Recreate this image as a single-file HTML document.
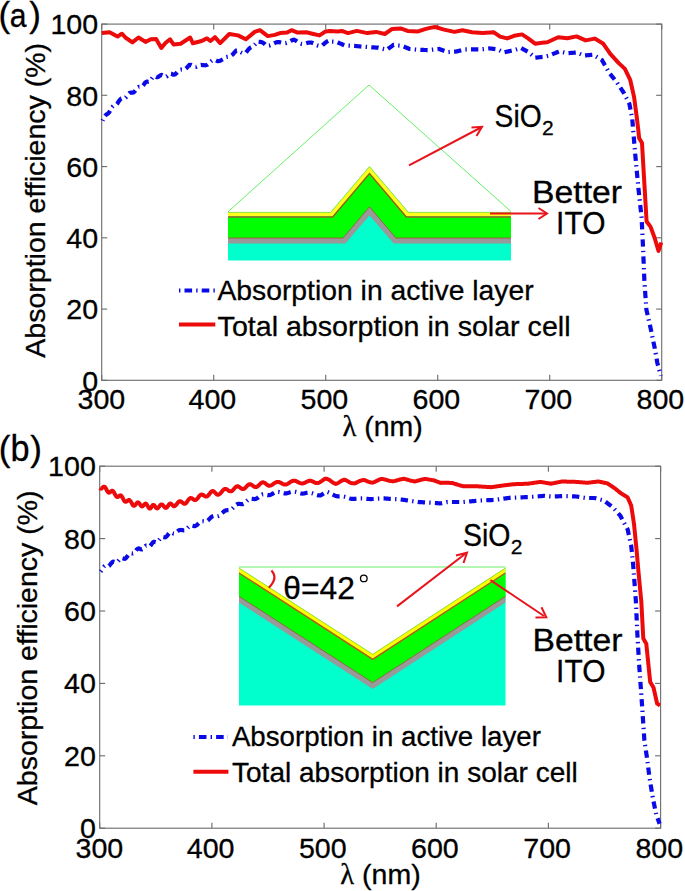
<!DOCTYPE html>
<html><head><meta charset="utf-8"><style>
html,body{margin:0;padding:0;background:#fff;width:685px;height:891px;overflow:hidden}
svg{display:block}
text{font-family:"Liberation Sans",sans-serif;fill:#000;stroke:#000;stroke-width:0.3px}
.tk{font-size:27px}
.lg{font-size:28.5px}
.lg2{font-size:27.6px}
.cal{font-size:31px}
.sub{font-size:21px}
.pl{font-size:35px}
</style></head><body>
<svg width="685" height="891" viewBox="0 0 685 891">
<rect width="685" height="891" fill="#fff"/>
<rect x="101.7" y="24.1" width="560.0" height="356.2" fill="none" stroke="#707070" stroke-width="1.15"/>
<line x1="101.7" y1="380.3" x2="101.7" y2="374.8" stroke="#707070" stroke-width="1.15"/>
<line x1="101.7" y1="24.1" x2="101.7" y2="29.6" stroke="#707070" stroke-width="1.15"/>
<line x1="213.7" y1="380.3" x2="213.7" y2="374.8" stroke="#707070" stroke-width="1.15"/>
<line x1="213.7" y1="24.1" x2="213.7" y2="29.6" stroke="#707070" stroke-width="1.15"/>
<line x1="325.7" y1="380.3" x2="325.7" y2="374.8" stroke="#707070" stroke-width="1.15"/>
<line x1="325.7" y1="24.1" x2="325.7" y2="29.6" stroke="#707070" stroke-width="1.15"/>
<line x1="437.7" y1="380.3" x2="437.7" y2="374.8" stroke="#707070" stroke-width="1.15"/>
<line x1="437.7" y1="24.1" x2="437.7" y2="29.6" stroke="#707070" stroke-width="1.15"/>
<line x1="549.7" y1="380.3" x2="549.7" y2="374.8" stroke="#707070" stroke-width="1.15"/>
<line x1="549.7" y1="24.1" x2="549.7" y2="29.6" stroke="#707070" stroke-width="1.15"/>
<line x1="661.7" y1="380.3" x2="661.7" y2="374.8" stroke="#707070" stroke-width="1.15"/>
<line x1="661.7" y1="24.1" x2="661.7" y2="29.6" stroke="#707070" stroke-width="1.15"/>
<line x1="101.7" y1="380.3" x2="107.2" y2="380.3" stroke="#707070" stroke-width="1.15"/>
<line x1="661.7" y1="380.3" x2="656.2" y2="380.3" stroke="#707070" stroke-width="1.15"/>
<line x1="101.7" y1="309.1" x2="107.2" y2="309.1" stroke="#707070" stroke-width="1.15"/>
<line x1="661.7" y1="309.1" x2="656.2" y2="309.1" stroke="#707070" stroke-width="1.15"/>
<line x1="101.7" y1="237.8" x2="107.2" y2="237.8" stroke="#707070" stroke-width="1.15"/>
<line x1="661.7" y1="237.8" x2="656.2" y2="237.8" stroke="#707070" stroke-width="1.15"/>
<line x1="101.7" y1="166.6" x2="107.2" y2="166.6" stroke="#707070" stroke-width="1.15"/>
<line x1="661.7" y1="166.6" x2="656.2" y2="166.6" stroke="#707070" stroke-width="1.15"/>
<line x1="101.7" y1="95.3" x2="107.2" y2="95.3" stroke="#707070" stroke-width="1.15"/>
<line x1="661.7" y1="95.3" x2="656.2" y2="95.3" stroke="#707070" stroke-width="1.15"/>
<line x1="101.7" y1="24.1" x2="107.2" y2="24.1" stroke="#707070" stroke-width="1.15"/>
<line x1="661.7" y1="24.1" x2="656.2" y2="24.1" stroke="#707070" stroke-width="1.15"/>
<text transform="translate(101.4,409.2) scale(1.06,1)" text-anchor="middle" class="tk">300</text>
<text transform="translate(212.4,409.2) scale(1.06,1)" text-anchor="middle" class="tk">400</text>
<text transform="translate(324.4,409.2) scale(1.06,1)" text-anchor="middle" class="tk">500</text>
<text transform="translate(436.4,409.2) scale(1.06,1)" text-anchor="middle" class="tk">600</text>
<text transform="translate(548.4,409.2) scale(1.06,1)" text-anchor="middle" class="tk">700</text>
<text transform="translate(660.4,409.2) scale(1.06,1)" text-anchor="middle" class="tk">800</text>
<text transform="translate(98.2,390.6) scale(1.06,1)" text-anchor="end" class="tk">0</text>
<text transform="translate(98.2,319.4) scale(1.06,1)" text-anchor="end" class="tk">20</text>
<text transform="translate(98.2,248.1) scale(1.06,1)" text-anchor="end" class="tk">40</text>
<text transform="translate(98.2,176.9) scale(1.06,1)" text-anchor="end" class="tk">60</text>
<text transform="translate(98.2,105.6) scale(1.06,1)" text-anchor="end" class="tk">80</text>
<text transform="translate(98.2,34.4) scale(1.06,1)" text-anchor="end" class="tk">100</text>
<g>
<polygon points="228,212 228,260.5 511,260.5 511,212 408.3,212 369.5,166.3 330.7,212" fill="#00ffcc"/>
<polygon points="228,238 228,243.5 345.4,243.5 369.5,215.4 393.6,243.5 511,243.5 511,238 396,238 369.5,206.8 342.9,238" fill="#999"/>
<polygon points="228,217.8 228,238 342.9,238 369.5,206.8 396,238 511,238 511,217.5 406.3,217.5 369.5,174 332.7,217.5" fill="#00ff00"/>
<polyline points="228,238 342.9,238 369.5,206.8 396,238 511,238" fill="none" stroke="#a0522d" stroke-width="0.8"/>
<polygon points="228,212.3 228,216.3 332.7,216.3 369.5,172.8 406.3,216.3 511,216.3 511,212.3 408.3,212.3 369.5,166.6 330.7,212.3" fill="#ffff20"/>
<polyline points="228,217.1 332.7,217.1 369.5,173.6 406.3,217.1 511,217.1" fill="none" stroke="#9a6400" stroke-width="1.5"/>
<polyline points="228,212.4 330.7,212.4 369.5,166.7 408.3,212.4 511,212.4" fill="none" stroke="#90e040" stroke-width="0.9"/>
<polyline points="228,211.8 369,85 511,211.5" fill="none" stroke="#66ee66" stroke-width="1"/>
</g>
<line x1="409" y1="165.4" x2="480" y2="128" stroke="#e8141c" stroke-width="2"/>
<polyline points="471.5,127.5 482,126.8 476.5,136" fill="none" stroke="#e8141c" stroke-width="2"/>
<line x1="490" y1="213.5" x2="546" y2="213.5" stroke="#e8141c" stroke-width="2"/>
<polyline points="538.5,208 547,213.5 538.5,219" fill="none" stroke="#e8141c" stroke-width="2"/>
<text x="494.6" y="127.2" class="cal" textLength="47" lengthAdjust="spacingAndGlyphs">SiO</text>
<text x="542" y="135.4" class="sub">2</text>
<text x="532" y="203.3" class="cal" textLength="90" lengthAdjust="spacingAndGlyphs">Better</text>
<text x="556.1" y="233.9" class="cal" textLength="49.3" lengthAdjust="spacingAndGlyphs">ITO</text>
<path d="M101.80 33.10 L109.60 32.30 L117.50 36.60 L121.90 33.70 L125.40 37.50 L132.40 42.40 L138.50 37.50 L145.50 41.90 L150.80 39.30 L156.10 38.90 L161.30 48.00 L165.70 42.80 L170.10 39.30 L173.60 44.50 L180.60 43.70 L190.20 37.50 L192.90 43.30 L201.60 41.00 L206.90 38.40 L210.40 41.00 L214.90 37.20 L220.20 43.10 L229.30 34.00 L238.00 35.40 L245.90 39.30 L254.70 31.90 L259.90 30.20 L267.80 36.10 L274.80 34.90 L280.10 33.10 L287.10 32.60 L291.50 30.20 L297.60 32.60 L306.40 32.30 L313.40 34.00 L319.50 35.40 L325.60 31.40 L330.00 30.90 L337.50 31.40 L341.90 30.90 L348.00 33.10 L356.80 30.90 L367.30 33.10 L376.10 31.90 L384.80 34.00 L391.80 29.10 L400.60 28.40 L407.60 30.90 L418.10 31.40 L425.10 29.10 L430.00 27.90 L435.30 27.00 L444.00 29.60 L454.50 31.90 L462.40 30.20 L472.00 32.30 L482.60 33.10 L493.90 32.30 L500.10 36.60 L507.10 38.40 L514.10 35.80 L522.00 34.40 L528.10 38.40 L535.10 43.70 L542.10 42.80 L547.30 42.30 L558.20 37.30 L567.40 38.20 L576.50 36.40 L585.60 40.40 L594.70 38.60 L603.00 43.40 L610.30 53.80 L618.50 62.90 L624.90 68.90 L630.30 80.20 L634.00 96.60 L636.70 116.70 L638.30 130.00 L639.10 138.00 L642.00 143.10 L643.80 173.80 L646.60 221.50 L650.50 226.60 L654.60 237.70 L658.50 251.00 L661.20 242.50" fill="none" stroke="#ec0a0a" stroke-width="4" stroke-linejoin="round"/>
<path d="M102.60 120.62 L103.00 119.68 L103.40 118.78 L103.80 117.94 L104.20 117.18 L104.60 116.52 L105.00 115.96 L105.40 115.49 L105.80 115.09 L106.20 114.74 L106.60 114.41 L107.00 114.08 L107.50 113.87 L107.99 113.56 L108.49 113.11 L108.98 112.51 L109.48 111.79 L109.97 110.96 L110.47 110.07 L110.97 109.17 L111.46 108.30 L111.96 107.53 L112.45 106.88 L112.95 106.36 L113.44 105.98 L113.94 105.71 L114.43 105.53 L114.93 105.37 L115.43 105.19 L115.92 104.94 L116.42 104.58 L116.91 104.09 L117.41 103.46 L117.90 102.70 L118.40 101.85 L119.00 101.01 L119.59 100.18 L120.19 99.46 L120.78 98.91 L121.38 98.55 L121.97 98.39 L122.57 98.36 L123.16 98.40 L123.76 98.43 L124.35 98.34 L124.95 98.09 L125.55 97.65 L126.14 97.04 L126.74 96.29 L127.33 95.48 L127.93 94.67 L128.52 93.93 L129.12 93.34 L129.71 92.91 L130.31 92.66 L130.90 92.56 L131.50 92.56 L132.09 92.58 L132.67 92.56 L133.26 92.43 L133.84 92.14 L134.43 91.67 L135.01 91.01 L135.60 90.23 L136.19 89.40 L136.77 88.60 L137.36 87.91 L137.94 87.41 L138.53 87.10 L139.11 86.97 L139.70 86.97 L140.29 87.02 L140.87 87.04 L141.46 86.94 L142.04 86.67 L142.63 86.18 L143.21 85.49 L143.80 84.65 L144.40 83.73 L145.00 82.89 L145.60 82.24 L146.20 81.84 L146.80 81.67 L147.40 81.67 L148.00 81.74 L148.60 81.76 L149.20 81.61 L149.80 81.22 L150.40 80.59 L151.00 79.77 L151.60 78.85 L152.20 77.96 L152.80 77.21 L153.40 76.68 L154.00 76.40 L154.60 76.33 L155.20 76.38 L155.90 76.89 L156.60 77.22 L157.30 77.25 L158.00 77.01 L158.70 76.58 L159.40 76.05 L160.10 75.53 L160.80 75.15 L161.50 74.98 L162.20 75.06 L162.90 75.35 L163.60 75.77 L164.30 76.21 L165.00 76.55 L165.70 76.69 L166.39 76.47 L167.07 76.01 L167.76 75.39 L168.44 74.72 L169.13 74.13 L169.81 73.74 L170.50 73.59 L171.19 73.70 L171.87 73.98 L172.56 74.32 L173.24 74.60 L173.93 74.69 L174.61 74.55 L175.30 74.23 L175.94 73.63 L176.57 72.95 L177.21 72.24 L177.85 71.55 L178.48 70.92 L179.12 70.40 L179.75 70.02 L180.39 69.77 L181.03 69.64 L181.66 69.61 L182.30 69.64 L182.94 69.66 L183.57 69.64 L184.21 69.52 L184.85 69.28 L185.48 68.90 L186.12 68.39 L186.75 67.76 L187.39 67.06 L188.03 66.34 L188.66 65.66 L189.30 65.06 L190.03 64.91 L190.77 64.95 L191.50 65.17 L192.23 65.53 L192.97 65.95 L193.70 66.37 L194.43 66.70 L195.17 66.88 L195.90 66.88 L196.63 66.71 L197.37 66.41 L198.10 66.02 L198.83 65.62 L199.57 65.26 L200.30 65.01 L201.03 64.90 L201.77 64.96 L202.50 65.17 L203.15 65.16 L203.79 65.21 L204.44 65.27 L205.09 65.30 L205.74 65.26 L206.38 65.10 L207.03 64.83 L207.68 64.43 L208.33 63.93 L208.97 63.35 L209.62 62.71 L210.27 62.08 L210.92 61.47 L211.56 60.94 L212.21 60.51 L212.86 60.19 L213.51 59.99 L214.15 59.90 L214.80 59.90 L215.55 60.25 L216.31 60.61 L217.06 60.91 L217.82 61.09 L218.57 61.12 L219.33 61.00 L220.08 60.75 L220.84 60.40 L221.59 59.99 L222.35 59.58 L223.10 59.22 L223.70 58.65 L224.30 58.16 L224.90 57.76 L225.50 57.44 L226.10 57.21 L226.70 57.05 L227.30 56.94 L227.90 56.86 L228.50 56.77 L229.10 56.66 L229.70 56.49 L230.30 56.26 L230.90 55.94 L231.50 55.52 L232.10 55.02 L232.70 54.43 L233.30 53.79 L233.90 53.10 L234.50 52.42 L235.10 51.75 L235.70 51.13 L236.30 50.58 L237.04 50.57 L237.78 50.70 L238.52 50.96 L239.25 51.33 L239.99 51.77 L240.73 52.21 L241.47 52.61 L242.21 52.93 L242.95 53.11 L243.68 53.16 L244.42 53.09 L245.16 52.90 L245.90 52.64 L246.45 51.90 L247.01 51.16 L247.56 50.44 L248.12 49.76 L248.67 49.14 L249.23 48.58 L249.78 48.09 L250.34 47.68 L250.89 47.34 L251.45 47.06 L252.00 46.82 L252.48 46.45 L252.96 46.10 L253.45 45.74 L253.93 45.36 L254.41 44.96 L254.89 44.51 L255.37 44.02 L255.85 43.47 L256.34 42.87 L256.82 42.22 L257.30 41.52 L257.93 41.66 L258.56 41.74 L259.19 41.80 L259.81 41.84 L260.44 41.90 L261.07 42.00 L261.70 42.17 L262.33 42.40 L262.96 42.73 L263.59 43.13 L264.21 43.62 L264.84 44.17 L265.47 44.76 L266.10 45.39 L266.80 45.54 L267.50 45.66 L268.20 45.71 L268.90 45.68 L269.60 45.55 L270.30 45.33 L271.00 45.04 L271.70 44.69 L272.40 44.29 L273.10 43.86 L273.80 43.50 L274.50 43.14 L275.20 42.82 L275.90 42.54 L276.60 42.33 L277.30 42.18 L278.00 42.11 L278.70 42.12 L279.40 42.19 L280.10 42.31 L280.80 42.48 L281.50 42.66 L282.20 42.84 L282.90 43.01 L283.60 43.13 L284.30 43.18 L285.00 43.15 L285.70 43.06 L286.40 42.89 L287.10 42.66 L287.80 42.37 L288.50 42.04 L289.20 41.68 L289.90 41.31 L290.60 40.94 L291.30 40.59 L292.00 40.28 L292.70 40.03 L293.40 39.83 L294.10 39.70 L294.76 40.01 L295.43 40.38 L296.09 40.80 L296.75 41.27 L297.41 41.76 L298.07 42.27 L298.74 42.77 L299.40 43.27 L300.10 43.53 L300.80 43.74 L301.50 43.89 L302.20 43.98 L302.90 44.00 L303.60 43.94 L304.30 43.83 L305.00 43.65 L305.70 43.45 L306.40 43.22 L307.10 43.00 L307.80 42.80 L308.50 42.63 L309.20 42.53 L309.90 42.49 L310.60 42.52 L311.30 42.63 L312.00 42.81 L312.70 43.05 L313.40 43.33 L314.12 43.74 L314.85 44.17 L315.57 44.58 L316.30 44.95 L317.02 45.27 L317.75 45.52 L318.48 45.69 L319.20 45.79 L319.93 45.83 L320.65 45.81 L321.38 45.74 L322.10 45.64 L322.71 45.06 L323.32 44.48 L323.93 43.91 L324.54 43.35 L325.15 42.83 L325.75 42.34 L326.36 41.89 L326.97 41.49 L327.58 41.14 L328.19 40.83 L328.80 40.57 L329.51 40.78 L330.22 41.49 L330.93 41.54 L331.64 41.58 L332.35 41.63 L333.05 41.67 L333.76 41.72 L334.47 41.76 L335.18 41.81 L335.89 41.85 L336.60 41.90 L337.26 42.19 L337.92 42.48 L338.58 42.77 L339.23 43.07 L339.89 43.36 L340.55 43.65 L341.21 43.94 L341.87 44.23 L342.52 44.52 L343.18 44.82 L343.84 45.11 L344.50 45.40 L345.25 45.44 L345.99 45.48 L346.74 45.52 L347.48 45.55 L348.23 45.59 L348.98 45.63 L349.72 45.67 L350.47 45.71 L351.22 45.75 L351.96 45.78 L352.71 45.82 L353.45 45.86 L354.20 45.90 L354.91 45.96 L355.62 46.03 L356.33 46.09 L357.04 46.15 L357.75 46.22 L358.45 46.28 L359.16 46.35 L359.87 46.41 L360.58 46.47 L361.29 46.54 L362.00 46.60 L362.73 46.65 L363.47 46.70 L364.20 46.75 L364.93 46.80 L365.67 46.85 L366.40 46.90 L367.13 46.95 L367.87 47.00 L368.60 47.05 L369.33 47.10 L370.07 47.15 L370.80 47.20 L371.50 47.25 L372.20 47.30 L372.90 47.35 L373.60 47.40 L374.30 47.45 L375.00 47.50 L375.70 47.55 L376.40 47.60 L377.10 47.65 L377.80 47.70 L378.53 47.88 L379.27 48.05 L380.00 48.23 L380.73 48.40 L381.47 48.58 L382.20 48.75 L382.93 48.92 L383.67 49.10 L384.40 49.27 L385.13 49.45 L385.87 49.62 L386.60 49.80 L387.18 49.39 L387.77 48.98 L388.35 48.57 L388.93 48.17 L389.52 47.76 L390.10 47.35 L390.68 46.94 L391.27 46.53 L391.85 46.12 L392.43 45.72 L393.02 45.31 L393.60 44.90 L394.33 44.98 L395.05 45.07 L395.78 45.15 L396.50 45.23 L397.23 45.32 L397.95 45.40 L398.68 45.48 L399.40 45.57 L400.12 45.65 L400.85 45.73 L401.57 45.82 L402.30 45.90 L403.00 46.20 L403.70 46.50 L404.40 46.80 L405.10 47.10 L405.80 47.40 L406.50 47.70 L407.20 48.00 L407.90 48.30 L408.60 48.60 L409.30 48.90 L410.03 48.98 L410.77 49.05 L411.50 49.12 L412.23 49.20 L412.97 49.27 L413.70 49.35 L414.43 49.42 L415.17 49.50 L415.90 49.57 L416.63 49.65 L417.37 49.72 L418.10 49.80 L418.80 49.82 L419.50 49.84 L420.20 49.86 L420.90 49.88 L421.60 49.90 L422.30 49.92 L423.00 49.94 L423.70 49.96 L424.40 49.98 L425.10 50.00 L425.80 50.02 L426.50 50.04 L427.20 50.06 L427.90 50.08 L428.60 50.10 L429.30 50.02 L430.00 49.94 L430.70 49.86 L431.40 49.78 L432.10 49.70 L432.80 49.62 L433.50 49.54 L434.20 49.46 L434.90 49.38 L435.60 49.30 L436.30 49.22 L437.00 49.14 L437.70 49.06 L438.40 48.98 L439.10 48.90 L439.80 49.17 L440.50 49.43 L441.20 49.70 L441.90 49.97 L442.60 50.23 L443.30 50.50 L444.00 50.77 L444.70 51.03 L445.40 51.30 L446.10 51.57 L446.80 51.83 L447.50 52.10 L448.23 52.05 L448.97 52.00 L449.70 51.95 L450.43 51.90 L451.17 51.85 L451.90 51.80 L452.63 51.75 L453.37 51.70 L454.10 51.65 L454.83 51.60 L455.57 51.55 L456.30 51.50 L457.03 51.33 L457.75 51.15 L458.48 50.98 L459.20 50.80 L459.93 50.62 L460.65 50.45 L461.38 50.27 L462.10 50.10 L462.82 49.92 L463.55 49.75 L464.27 49.57 L465.00 49.40 L465.72 49.40 L466.44 49.40 L467.15 49.40 L467.87 49.40 L468.59 49.40 L469.31 49.40 L470.03 49.40 L470.75 49.40 L471.46 49.40 L472.18 49.40 L472.90 49.40 L473.62 49.40 L474.34 49.40 L475.05 49.40 L475.77 49.40 L476.49 49.40 L477.21 49.40 L477.93 49.40 L478.65 49.40 L479.36 49.40 L480.08 49.40 L480.80 49.40 L481.53 49.32 L482.27 49.23 L483.00 49.15 L483.73 49.07 L484.47 48.98 L485.20 48.90 L485.93 48.82 L486.67 48.73 L487.40 48.65 L488.13 48.57 L488.87 48.48 L489.60 48.40 L490.31 48.49 L491.02 48.58 L491.73 48.67 L492.44 48.76 L493.15 48.85 L493.85 48.95 L494.56 49.04 L495.27 49.13 L495.98 49.22 L496.69 49.31 L497.40 49.40 L498.09 49.73 L498.78 50.07 L499.47 50.40 L500.16 50.73 L500.84 51.07 L501.53 51.40 L502.22 51.73 L502.91 52.07 L503.60 52.40 L504.30 52.25 L505.00 52.09 L505.70 51.94 L506.40 51.79 L507.10 51.63 L507.80 51.48 L508.50 51.33 L509.20 51.17 L509.90 51.02 L510.60 50.87 L511.30 50.71 L512.00 50.56 L512.70 50.41 L513.40 50.25 L514.10 50.10 L514.80 49.89 L515.50 49.68 L516.20 49.47 L516.90 49.26 L517.60 49.05 L518.30 48.84 L519.00 48.63 L519.70 48.42 L520.40 48.21 L521.10 48.00 L521.76 48.37 L522.42 48.73 L523.08 49.10 L523.73 49.47 L524.39 49.83 L525.05 50.20 L525.71 50.57 L526.37 50.93 L527.02 51.30 L527.68 51.67 L528.34 52.03 L529.00 52.40 L529.55 52.88 L530.11 53.36 L530.66 53.85 L531.22 54.33 L531.77 54.81 L532.33 55.29 L532.88 55.77 L533.44 56.25 L533.99 56.74 L534.55 57.22 L535.10 57.70 L535.83 57.62 L536.57 57.55 L537.30 57.48 L538.03 57.40 L538.77 57.33 L539.50 57.25 L540.23 57.17 L540.97 57.10 L541.70 57.02 L542.43 56.95 L543.17 56.88 L543.90 56.80 L544.64 56.63 L545.39 56.46 L546.13 56.29 L546.87 56.11 L547.61 55.94 L548.36 55.77 L549.10 55.60 L549.77 55.32 L550.45 55.04 L551.12 54.76 L551.79 54.48 L552.47 54.20 L553.14 53.92 L553.81 53.64 L554.49 53.36 L555.16 53.08 L555.83 52.80 L556.51 52.52 L557.18 52.24 L557.85 51.96 L558.53 51.68 L559.20 51.40 L559.95 51.56 L560.69 51.73 L561.44 51.89 L562.18 52.05 L562.93 52.22 L563.67 52.38 L564.42 52.55 L565.16 52.71 L565.91 52.87 L566.65 53.04 L567.40 53.20 L568.10 53.15 L568.80 53.09 L569.50 53.04 L570.20 52.98 L570.90 52.93 L571.60 52.88 L572.30 52.82 L573.00 52.77 L573.70 52.72 L574.40 52.66 L575.10 52.61 L575.80 52.55 L576.50 52.50 L577.16 52.78 L577.83 53.06 L578.49 53.35 L579.15 53.63 L579.82 53.91 L580.48 54.19 L581.15 54.47 L581.81 54.75 L582.47 55.04 L583.14 55.32 L583.80 55.60 L584.50 55.53 L585.20 55.46 L585.90 55.39 L586.60 55.32 L587.30 55.25 L588.00 55.18 L588.70 55.12 L589.40 55.05 L590.10 54.98 L590.80 54.91 L591.50 54.84 L592.20 54.77 L592.90 54.70 L593.51 55.06 L594.11 55.42 L594.72 55.78 L595.33 56.14 L595.93 56.50 L596.54 56.86 L597.15 57.22 L597.75 57.58 L598.36 57.94 L598.97 58.30 L599.57 58.66 L600.18 59.02 L600.79 59.38 L601.39 59.74 L602.00 60.10 L602.35 60.71 L602.70 61.32 L603.04 61.93 L603.39 62.54 L603.74 63.15 L604.09 63.76 L604.43 64.37 L604.78 64.98 L605.13 65.59 L605.48 66.20 L605.82 66.80 L606.17 67.41 L606.52 68.02 L606.87 68.63 L607.21 69.24 L607.56 69.85 L607.91 70.46 L608.26 71.07 L608.60 71.68 L608.95 72.29 L609.30 72.90 L609.76 73.47 L610.21 74.04 L610.67 74.61 L611.12 75.18 L611.58 75.74 L612.04 76.31 L612.49 76.88 L612.95 77.45 L613.41 78.02 L613.86 78.59 L614.32 79.16 L614.77 79.72 L615.23 80.29 L615.69 80.86 L616.14 81.43 L616.60 82.00 L617.01 82.61 L617.41 83.22 L617.82 83.83 L618.22 84.44 L618.63 85.06 L619.03 85.67 L619.44 86.28 L619.84 86.89 L620.25 87.50 L620.66 88.11 L621.06 88.72 L621.47 89.33 L621.87 89.94 L622.28 90.56 L622.68 91.17 L623.09 91.78 L623.49 92.39 L623.90 93.00 L624.22 93.64 L624.55 94.28 L624.87 94.92 L625.19 95.56 L625.52 96.21 L625.84 96.85 L626.16 97.49 L626.49 98.13 L626.81 98.77 L627.14 99.41 L627.46 100.05 L627.78 100.69 L628.11 101.34 L628.43 101.98 L628.75 102.62 L629.08 103.26 L629.40 103.90 L629.53 104.60 L629.67 105.29 L629.80 105.99 L629.93 106.68 L630.07 107.38 L630.20 108.07 L630.33 108.77 L630.47 109.46 L630.60 110.16 L630.73 110.85 L630.87 111.55 L631.00 112.24 L631.13 112.94 L631.27 113.63 L631.40 114.33 L631.53 115.02 L631.67 115.72 L631.80 116.41 L631.93 117.11 L632.07 117.80 L632.20 118.50 L632.26 119.22 L632.33 119.94 L632.39 120.66 L632.45 121.38 L632.51 122.09 L632.58 122.81 L632.64 123.53 L632.70 124.25 L632.76 124.97 L632.83 125.69 L632.89 126.41 L632.95 127.12 L633.01 127.84 L633.08 128.56 L633.14 129.28 L633.20 130.00 L633.26 130.71 L633.32 131.41 L633.37 132.12 L633.43 132.83 L633.49 133.53 L633.55 134.24 L633.61 134.95 L633.66 135.65 L633.72 136.36 L633.78 137.06 L633.84 137.77 L633.90 138.48 L633.95 139.18 L634.01 139.89 L634.07 140.60 L634.13 141.30 L634.19 142.01 L634.25 142.72 L634.30 143.42 L634.36 144.13 L634.42 144.84 L634.48 145.54 L634.54 146.25 L634.59 146.95 L634.65 147.66 L634.71 148.37 L634.77 149.07 L634.83 149.78 L634.88 150.49 L634.94 151.19 L635.00 151.90 L635.07 152.60 L635.13 153.30 L635.20 154.00 L635.26 154.70 L635.33 155.40 L635.39 156.10 L635.46 156.80 L635.52 157.50 L635.59 158.20 L635.65 158.90 L635.72 159.60 L635.78 160.30 L635.85 161.00 L635.92 161.70 L635.98 162.40 L636.05 163.10 L636.11 163.80 L636.18 164.50 L636.24 165.20 L636.31 165.90 L636.37 166.60 L636.44 167.30 L636.50 168.00 L636.57 168.70 L636.63 169.40 L636.70 170.10 L636.77 170.80 L636.83 171.50 L636.90 172.20 L636.96 172.90 L637.03 173.60 L637.09 174.30 L637.16 175.00 L637.22 175.70 L637.29 176.40 L637.35 177.10 L637.42 177.80 L637.48 178.50 L637.55 179.20 L637.62 179.90 L637.68 180.60 L637.75 181.30 L637.81 182.00 L637.88 182.70 L637.94 183.40 L638.01 184.10 L638.07 184.80 L638.14 185.50 L638.20 186.20 L638.27 186.90 L638.33 187.60 L638.40 188.30 L638.48 189.01 L638.56 189.72 L638.63 190.44 L638.71 191.15 L638.79 191.86 L638.87 192.57 L638.95 193.29 L639.02 194.00 L639.10 194.71 L639.18 195.42 L639.26 196.13 L639.34 196.85 L639.41 197.56 L639.49 198.27 L639.57 198.98 L639.65 199.70 L639.73 200.41 L639.80 201.12 L639.88 201.83 L639.96 202.54 L640.04 203.26 L640.12 203.97 L640.20 204.68 L640.27 205.39 L640.35 206.10 L640.43 206.82 L640.51 207.53 L640.59 208.24 L640.66 208.95 L640.74 209.67 L640.82 210.38 L640.90 211.09 L640.98 211.80 L641.05 212.51 L641.13 213.23 L641.21 213.94 L641.29 214.65 L641.37 215.36 L641.44 216.08 L641.52 216.79 L641.60 217.50 L641.63 218.21 L641.67 218.92 L641.70 219.64 L641.74 220.35 L641.77 221.06 L641.80 221.77 L641.84 222.49 L641.87 223.20 L641.91 223.91 L641.94 224.62 L641.98 225.33 L642.01 226.05 L642.04 226.76 L642.08 227.47 L642.11 228.18 L642.15 228.90 L642.18 229.61 L642.21 230.32 L642.25 231.03 L642.28 231.74 L642.32 232.46 L642.35 233.17 L642.39 233.88 L642.42 234.59 L642.45 235.30 L642.49 236.02 L642.52 236.73 L642.56 237.44 L642.59 238.15 L642.62 238.87 L642.66 239.58 L642.69 240.29 L642.73 241.00 L642.76 241.71 L642.80 242.43 L642.83 243.14 L642.86 243.85 L642.90 244.56 L642.93 245.28 L642.97 245.99 L643.00 246.70 L643.03 247.41 L643.06 248.12 L643.09 248.82 L643.11 249.53 L643.14 250.24 L643.17 250.95 L643.20 251.66 L643.23 252.37 L643.26 253.07 L643.29 253.78 L643.31 254.49 L643.34 255.20 L643.37 255.91 L643.40 256.61 L643.43 257.32 L643.46 258.03 L643.49 258.74 L643.51 259.45 L643.54 260.16 L643.57 260.86 L643.60 261.57 L643.63 262.28 L643.66 262.99 L643.69 263.70 L643.71 264.40 L643.74 265.11 L643.77 265.82 L643.80 266.53 L643.83 267.24 L643.86 267.94 L643.89 268.65 L643.91 269.36 L643.94 270.07 L643.97 270.78 L644.00 271.49 L644.03 272.19 L644.06 272.90 L644.09 273.61 L644.11 274.32 L644.14 275.03 L644.17 275.73 L644.20 276.44 L644.23 277.15 L644.26 277.86 L644.29 278.57 L644.31 279.28 L644.34 279.98 L644.37 280.69 L644.40 281.40 L644.45 282.11 L644.50 282.81 L644.55 283.52 L644.60 284.23 L644.65 284.94 L644.70 285.64 L644.75 286.35 L644.80 287.06 L644.85 287.77 L644.90 288.47 L644.95 289.18 L645.00 289.89 L645.05 290.60 L645.10 291.31 L645.15 292.01 L645.20 292.72 L645.25 293.43 L645.30 294.13 L645.35 294.84 L645.40 295.55 L645.45 296.26 L645.50 296.96 L645.55 297.67 L645.60 298.38 L645.65 299.09 L645.70 299.79 L645.75 300.50 L645.80 301.21 L645.85 301.92 L645.90 302.62 L645.95 303.33 L646.00 304.04 L646.05 304.75 L646.10 305.45 L646.15 306.16 L646.20 306.87 L646.25 307.58 L646.30 308.28 L646.35 308.99 L646.40 309.70 L646.56 310.40 L646.72 311.10 L646.88 311.80 L647.04 312.50 L647.20 313.20 L647.36 313.90 L647.51 314.60 L647.67 315.30 L647.83 316.00 L647.99 316.70 L648.15 317.40 L648.31 318.10 L648.47 318.80 L648.63 319.50 L648.79 320.20 L648.95 320.90 L649.11 321.60 L649.27 322.30 L649.43 323.00 L649.59 323.70 L649.74 324.40 L649.90 325.10 L650.06 325.80 L650.22 326.50 L650.38 327.20 L650.54 327.90 L650.70 328.60 L650.84 329.30 L650.99 330.00 L651.13 330.70 L651.28 331.40 L651.42 332.10 L651.57 332.80 L651.71 333.50 L651.86 334.20 L652.00 334.90 L652.14 335.60 L652.29 336.30 L652.43 337.00 L652.58 337.70 L652.72 338.40 L652.87 339.10 L653.01 339.80 L653.16 340.50 L653.30 341.20 L653.44 341.90 L653.59 342.60 L653.73 343.30 L653.88 344.00 L654.02 344.70 L654.17 345.40 L654.31 346.10 L654.46 346.80 L654.60 347.50 L654.73 348.21 L654.85 348.93 L654.98 349.64 L655.11 350.35 L655.24 351.07 L655.36 351.78 L655.49 352.50 L655.62 353.21 L655.75 353.92 L655.87 354.64 L656.00 355.35 L656.13 356.06 L656.25 356.78 L656.38 357.49 L656.51 358.20 L656.64 358.92 L656.76 359.63 L656.89 360.35 L657.02 361.06 L657.15 361.77 L657.27 362.49 L657.40 363.20 L657.59 363.90 L657.79 364.60 L657.98 365.30 L658.18 366.00 L658.37 366.70 L658.57 367.40 L658.76 368.10 L658.96 368.80 L659.15 369.50 L659.34 370.20 L659.54 370.90 L659.73 371.60 L659.93 372.30 L660.12 373.00 L660.32 373.70 L660.51 374.40 L660.71 375.10 L660.90 375.80" fill="none" stroke="#0a0ae6" stroke-width="4.2" stroke-dasharray="7.3 4.25 1.4 4.25" stroke-dashoffset="11.918070909799908"/>
<line x1="179" y1="290.4" x2="215.3" y2="290.4" stroke="#0a0ae6" stroke-width="4" stroke-dasharray="1.4 4.1 7.6 4.1"/>
<line x1="179" y1="324.6" x2="215.3" y2="324.6" stroke="#ec0a0a" stroke-width="4"/>
<text x="217.4" y="299.8" class="lg" textLength="316.3" lengthAdjust="spacingAndGlyphs">Absorption in active layer</text>
<text x="217.6" y="336" class="lg" textLength="352.9" lengthAdjust="spacingAndGlyphs">Total absorption in solar cell</text>
<text x="-1.6" y="27.3" class="pl">(</text><text transform="translate(9.8,27.3) scale(0.86,0.97)" class="pl">a</text><text x="29.2" y="27.3" class="pl">)</text>
<text transform="translate(45.1,200.3) rotate(-90)" text-anchor="middle" class="lg">Absorption efficiency (%)</text>
<text x="382.6" y="436.1" text-anchor="middle" class="lg"><tspan font-family="Liberation Serif">λ</tspan> (nm)</text>
<rect x="99.7" y="466.2" width="560.9" height="362.00000000000006" fill="none" stroke="#707070" stroke-width="1.15"/>
<line x1="99.7" y1="828.2" x2="99.7" y2="822.7" stroke="#707070" stroke-width="1.15"/>
<line x1="99.7" y1="466.2" x2="99.7" y2="471.7" stroke="#707070" stroke-width="1.15"/>
<line x1="211.9" y1="828.2" x2="211.9" y2="822.7" stroke="#707070" stroke-width="1.15"/>
<line x1="211.9" y1="466.2" x2="211.9" y2="471.7" stroke="#707070" stroke-width="1.15"/>
<line x1="324.1" y1="828.2" x2="324.1" y2="822.7" stroke="#707070" stroke-width="1.15"/>
<line x1="324.1" y1="466.2" x2="324.1" y2="471.7" stroke="#707070" stroke-width="1.15"/>
<line x1="436.2" y1="828.2" x2="436.2" y2="822.7" stroke="#707070" stroke-width="1.15"/>
<line x1="436.2" y1="466.2" x2="436.2" y2="471.7" stroke="#707070" stroke-width="1.15"/>
<line x1="548.4" y1="828.2" x2="548.4" y2="822.7" stroke="#707070" stroke-width="1.15"/>
<line x1="548.4" y1="466.2" x2="548.4" y2="471.7" stroke="#707070" stroke-width="1.15"/>
<line x1="660.6" y1="828.2" x2="660.6" y2="822.7" stroke="#707070" stroke-width="1.15"/>
<line x1="660.6" y1="466.2" x2="660.6" y2="471.7" stroke="#707070" stroke-width="1.15"/>
<line x1="99.7" y1="828.2" x2="105.2" y2="828.2" stroke="#707070" stroke-width="1.15"/>
<line x1="660.6" y1="828.2" x2="655.1" y2="828.2" stroke="#707070" stroke-width="1.15"/>
<line x1="99.7" y1="755.8" x2="105.2" y2="755.8" stroke="#707070" stroke-width="1.15"/>
<line x1="660.6" y1="755.8" x2="655.1" y2="755.8" stroke="#707070" stroke-width="1.15"/>
<line x1="99.7" y1="683.4" x2="105.2" y2="683.4" stroke="#707070" stroke-width="1.15"/>
<line x1="660.6" y1="683.4" x2="655.1" y2="683.4" stroke="#707070" stroke-width="1.15"/>
<line x1="99.7" y1="611.0" x2="105.2" y2="611.0" stroke="#707070" stroke-width="1.15"/>
<line x1="660.6" y1="611.0" x2="655.1" y2="611.0" stroke="#707070" stroke-width="1.15"/>
<line x1="99.7" y1="538.6" x2="105.2" y2="538.6" stroke="#707070" stroke-width="1.15"/>
<line x1="660.6" y1="538.6" x2="655.1" y2="538.6" stroke="#707070" stroke-width="1.15"/>
<line x1="99.7" y1="466.2" x2="105.2" y2="466.2" stroke="#707070" stroke-width="1.15"/>
<line x1="660.6" y1="466.2" x2="655.1" y2="466.2" stroke="#707070" stroke-width="1.15"/>
<text transform="translate(99.4,857.5) scale(1.06,1)" text-anchor="middle" class="tk">300</text>
<text transform="translate(210.6,857.5) scale(1.06,1)" text-anchor="middle" class="tk">400</text>
<text transform="translate(322.8,857.5) scale(1.06,1)" text-anchor="middle" class="tk">500</text>
<text transform="translate(434.9,857.5) scale(1.06,1)" text-anchor="middle" class="tk">600</text>
<text transform="translate(547.1,857.5) scale(1.06,1)" text-anchor="middle" class="tk">700</text>
<text transform="translate(659.3,857.5) scale(1.06,1)" text-anchor="middle" class="tk">800</text>
<text transform="translate(95.8,838.2) scale(1.06,1)" text-anchor="end" class="tk">0</text>
<text transform="translate(95.8,765.8) scale(1.06,1)" text-anchor="end" class="tk">20</text>
<text transform="translate(95.8,693.4) scale(1.06,1)" text-anchor="end" class="tk">40</text>
<text transform="translate(95.8,621.0) scale(1.06,1)" text-anchor="end" class="tk">60</text>
<text transform="translate(95.8,548.6) scale(1.06,1)" text-anchor="end" class="tk">80</text>
<text transform="translate(95.8,476.2) scale(1.06,1)" text-anchor="end" class="tk">100</text>
<g>
<polygon points="239,568 372.7,654.3 505.5,568 505.5,705.5 239,705.5" fill="#00ffcc"/>
<polygon points="239,596.3 372.7,682.6 505.5,596.3 505.5,602.6 372.7,688.9 239,602.6" fill="#999"/>
<polygon points="239,573.5 372.7,659.8 505.5,573.5 505.5,596.3 372.7,682.6 239,596.3" fill="#00ff00"/>
<polyline points="239,596.3 372.7,682.6 505.5,596.3" fill="none" stroke="#a0522d" stroke-width="0.8"/>
<polygon points="239,568 372.7,654.3 505.5,568 505.5,572.2 372.7,658.5 239,572.2" fill="#ffff00"/>
<polyline points="239,573 372.7,659.3 505.5,573" fill="none" stroke="#c05a00" stroke-width="1.4"/>
<polyline points="239,568 372.7,654.3 505.5,568" fill="none" stroke="#7fd000" stroke-width="0.7"/>
<line x1="239" y1="567" x2="505.5" y2="567" stroke="#66ee66" stroke-width="1"/>
</g>
<path d="M271.4 570.5 Q278.5 578 268.8 587.7" fill="none" stroke="#e8141c" stroke-width="2.2"/>
<text x="283.3" y="598.5" class="cal" textLength="71.5" lengthAdjust="spacingAndGlyphs">θ=42</text>
<circle cx="363.8" cy="578.4" r="3.3" fill="none" stroke="#000" stroke-width="1.3"/>
<line x1="397" y1="606.4" x2="465" y2="554" stroke="#e8141c" stroke-width="2"/>
<polyline points="456,555.5 467,552.7 463.5,563" fill="none" stroke="#e8141c" stroke-width="2"/>
<line x1="490.4" y1="580.1" x2="544" y2="616" stroke="#e8141c" stroke-width="2"/>
<polyline points="535.5,617.5 546.3,617.2 541.5,607.3" fill="none" stroke="#e8141c" stroke-width="2"/>
<text x="462.9" y="545.6" class="cal" textLength="47.5" lengthAdjust="spacingAndGlyphs">SiO</text>
<text x="510.8" y="553.9" class="sub">2</text>
<text x="532.4" y="651.2" class="cal" textLength="90" lengthAdjust="spacingAndGlyphs">Better</text>
<text x="556.1" y="682.3" class="cal" textLength="49.3" lengthAdjust="spacingAndGlyphs">ITO</text>
<path d="M99.80 487.92 L100.44 488.52 L101.07 488.65 L101.71 488.36 L102.35 487.80 L102.98 487.19 L103.62 486.75 L104.25 486.66 L104.89 487.03 L105.53 487.85 L106.16 488.99 L106.80 490.24 L107.47 491.45 L108.14 492.30 L108.81 492.66 L109.48 492.56 L110.15 492.10 L110.82 491.49 L111.48 490.96 L112.15 490.74 L112.82 490.96 L113.49 491.66 L114.16 492.74 L114.83 494.01 L115.50 495.25 L116.13 496.23 L116.76 496.84 L117.39 497.03 L118.01 496.84 L118.64 496.39 L119.27 495.87 L119.90 495.47 L120.53 495.37 L121.16 495.67 L121.79 496.38 L122.41 497.44 L123.04 498.68 L123.67 499.92 L124.30 500.96 L124.97 501.63 L125.64 501.84 L126.31 501.65 L126.98 501.19 L127.65 500.63 L128.32 500.17 L128.98 500.00 L129.65 500.22 L130.32 500.86 L130.99 501.86 L131.66 503.07 L132.33 504.29 L133.00 505.32 L133.70 505.74 L134.40 505.68 L135.10 505.13 L135.80 504.26 L136.50 503.32 L137.20 502.61 L137.90 502.33 L138.60 502.58 L139.30 503.31 L140.00 504.33 L140.70 505.37 L141.40 506.15 L142.10 506.48 L142.80 506.22 L143.50 505.44 L144.21 504.56 L144.92 503.81 L145.63 503.52 L146.34 503.88 L147.05 504.83 L147.76 506.14 L148.47 507.42 L149.18 508.32 L149.89 508.61 L150.60 508.27 L151.32 507.19 L152.05 506.02 L152.78 505.17 L153.50 504.91 L154.22 505.34 L154.95 506.27 L155.68 507.35 L156.40 508.18 L157.12 508.45 L157.85 508.13 L158.58 507.39 L159.30 506.40 L160.03 505.41 L160.77 504.67 L161.50 504.38 L162.23 504.59 L162.97 505.24 L163.70 506.15 L164.43 507.06 L165.17 507.71 L165.90 507.92 L166.63 507.60 L167.37 506.81 L168.10 505.76 L168.82 504.63 L169.55 503.81 L170.28 503.49 L171.00 503.71 L171.72 504.36 L172.45 505.20 L173.18 505.94 L173.90 506.32 L174.62 506.19 L175.35 505.70 L176.08 504.93 L176.80 503.99 L177.53 503.01 L178.27 502.14 L179.00 501.51 L179.73 501.20 L180.47 501.24 L181.20 501.58 L181.93 502.14 L182.67 502.78 L183.40 503.35 L184.13 503.71 L184.87 503.77 L185.60 503.48 L186.28 502.83 L186.95 501.95 L187.63 500.95 L188.31 499.96 L188.98 499.09 L189.66 498.44 L190.34 498.08 L191.02 498.03 L191.69 498.25 L192.37 498.67 L193.05 499.19 L193.72 499.67 L194.40 500.00 L195.12 500.14 L195.85 499.93 L196.57 499.42 L197.30 498.66 L198.03 497.73 L198.75 496.76 L199.47 495.85 L200.20 495.13 L200.93 494.66 L201.65 494.51 L202.38 494.64 L203.10 495.01 L203.78 495.46 L204.45 495.94 L205.13 496.35 L205.81 496.59 L206.48 496.62 L207.16 496.38 L207.84 495.90 L208.52 495.20 L209.19 494.36 L209.87 493.45 L210.55 492.55 L211.22 491.76 L211.90 491.15 L212.63 491.06 L213.36 491.25 L214.09 491.71 L214.81 492.37 L215.54 493.15 L216.27 493.94 L217.00 494.62 L217.70 494.81 L218.40 494.77 L219.10 494.47 L219.80 493.96 L220.50 493.25 L221.20 492.42 L221.90 491.54 L222.60 490.70 L223.30 489.96 L224.00 489.40 L224.70 489.05 L225.40 488.94 L226.10 489.05 L226.80 489.34 L227.50 489.74 L228.20 490.27 L228.90 490.76 L229.60 491.13 L230.30 491.32 L231.00 491.30 L231.70 491.04 L232.40 490.55 L233.10 489.87 L233.80 489.08 L234.50 488.26 L235.20 487.50 L235.90 486.87 L236.60 486.44 L237.30 486.25 L238.00 486.30 L238.70 486.60 L239.40 487.06 L240.10 487.61 L240.80 488.17 L241.50 488.65 L242.20 488.97 L242.90 489.08 L243.60 488.96 L244.30 488.61 L245.00 488.07 L245.70 487.39 L246.40 486.64 L247.10 485.89 L247.80 485.21 L248.50 484.67 L249.21 484.33 L249.91 484.21 L250.62 484.32 L251.32 484.62 L252.03 485.07 L252.73 485.60 L253.44 486.15 L254.14 486.62 L254.84 486.96 L255.55 487.10 L256.25 487.03 L256.96 486.75 L257.67 486.29 L258.37 485.69 L259.08 484.99 L259.78 484.26 L260.49 483.58 L261.19 483.00 L261.90 482.57 L262.60 482.33 L263.30 482.37 L264.00 482.60 L264.70 482.98 L265.40 483.49 L266.10 484.05 L266.80 484.62 L267.50 485.11 L268.20 485.50 L268.90 485.72 L269.60 485.75 L270.30 485.63 L271.00 485.39 L271.70 485.03 L272.40 484.59 L273.10 484.10 L273.80 483.59 L274.50 483.10 L275.20 482.67 L275.90 482.32 L276.60 482.07 L277.30 481.91 L278.00 481.88 L278.70 481.98 L279.40 482.19 L280.10 482.49 L280.80 482.85 L281.50 483.25 L282.20 483.64 L282.90 483.99 L283.60 484.27 L284.30 484.46 L285.00 484.54 L285.70 484.49 L286.40 484.33 L287.10 484.07 L287.80 483.72 L288.50 483.30 L289.20 482.83 L289.90 482.35 L290.60 481.87 L291.30 481.48 L292.00 481.15 L292.70 480.91 L293.40 480.76 L294.10 480.72 L294.80 480.79 L295.50 480.95 L296.20 481.20 L296.90 481.51 L297.60 481.87 L298.30 482.24 L299.00 482.60 L299.70 482.92 L300.40 483.18 L301.10 483.37 L301.80 483.46 L302.50 483.45 L303.20 483.33 L303.90 483.11 L304.60 482.81 L305.30 482.50 L306.00 482.15 L306.70 481.79 L307.40 481.45 L308.10 481.16 L308.80 480.94 L309.50 480.80 L310.20 480.77 L310.90 480.84 L311.60 481.01 L312.30 481.27 L313.00 481.60 L313.70 481.98 L314.40 482.38 L315.10 482.78 L315.78 482.91 L316.46 483.00 L317.14 483.01 L317.82 482.94 L318.50 482.78 L319.18 482.54 L319.86 482.22 L320.54 481.84 L321.22 481.40 L321.90 480.93 L322.58 480.44 L323.26 479.94 L323.94 479.46 L324.62 479.02 L325.30 478.62 L326.00 478.68 L326.70 478.81 L327.40 479.02 L328.10 479.30 L328.80 479.66 L329.50 480.08 L330.20 480.54 L330.90 481.04 L331.60 481.55 L332.30 482.06 L333.00 482.54 L333.70 482.98 L334.40 483.37 L335.10 483.69 L335.80 483.94 L336.53 483.73 L337.25 483.42 L337.98 483.05 L338.70 482.61 L339.43 482.14 L340.15 481.65 L340.88 481.18 L341.60 480.74 L342.32 480.36 L343.05 480.05 L343.77 479.82 L344.50 479.67 L345.20 479.91 L345.90 480.23 L346.60 480.59 L347.30 480.99 L348.00 481.41 L348.70 481.82 L349.40 482.21 L350.10 482.56 L350.80 482.85 L351.50 483.07 L352.20 483.22 L352.90 483.31 L353.60 483.36 L354.30 483.38 L355.00 483.36 L355.73 482.99 L356.47 482.61 L357.20 482.22 L357.93 481.83 L358.67 481.47 L359.40 481.13 L360.13 480.83 L360.87 480.56 L361.60 480.35 L362.33 480.18 L363.07 480.05 L363.80 479.97 L364.53 480.20 L365.27 480.46 L366.00 480.74 L366.73 481.03 L367.47 481.32 L368.20 481.60 L368.93 481.86 L369.67 482.10 L370.40 482.30 L371.13 482.46 L371.87 482.58 L372.60 482.67 L373.33 482.42 L374.05 482.13 L374.78 481.82 L375.50 481.48 L376.23 481.12 L376.95 480.76 L377.68 480.40 L378.40 480.05 L379.12 479.72 L379.85 479.42 L380.57 479.15 L381.30 478.91 L382.02 478.96 L382.75 479.05 L383.47 479.17 L384.19 479.33 L384.92 479.51 L385.64 479.71 L386.36 479.92 L387.09 480.14 L387.81 480.35 L388.54 480.55 L389.26 480.73 L389.98 480.89 L390.71 481.02 L391.43 481.12 L392.15 481.19 L392.88 481.23 L393.60 481.25 L394.30 481.09 L395.00 480.91 L395.70 480.71 L396.40 480.51 L397.10 480.30 L397.80 480.09 L398.50 479.89 L399.20 479.69 L399.90 479.51 L400.60 479.34 L401.30 479.19 L402.00 479.06 L402.70 478.95 L403.40 478.86 L404.10 478.80 L404.80 478.96 L405.50 479.14 L406.20 479.33 L406.90 479.53 L407.60 479.74 L408.30 479.95 L409.00 480.16 L409.70 480.37 L410.40 480.57 L411.10 480.75 L411.80 480.92 L412.50 481.08 L413.20 481.22 L413.90 481.34 L414.60 481.44 L415.30 481.29 L416.00 481.14 L416.70 480.97 L417.40 480.78 L418.10 480.59 L418.80 480.40 L419.50 480.21 L420.20 480.01 L420.90 479.83 L421.60 479.65 L422.30 479.48 L423.00 479.32 L423.70 479.18 L424.40 479.05 L425.10 478.94 L425.83 479.02 L426.57 479.12 L427.30 479.23 L428.03 479.35 L428.77 479.48 L429.50 479.61 L430.23 479.74 L430.97 479.87 L431.70 480.00 L432.43 480.12 L433.17 480.24 L433.90 480.34 L434.56 480.63 L435.22 480.91 L435.88 481.18 L436.54 481.44 L437.20 481.70 L437.86 481.94 L438.52 482.18 L439.18 482.42 L439.84 482.65 L440.50 482.88 L441.22 482.85 L441.95 482.82 L442.67 482.80 L443.39 482.78 L444.12 482.76 L444.84 482.76 L445.56 482.75 L446.29 482.76 L447.01 482.78 L447.74 482.80 L448.46 482.83 L449.18 482.86 L449.91 482.90 L450.63 482.95 L451.35 482.99 L452.08 483.04 L452.80 483.08 L453.50 483.32 L454.20 483.56 L454.90 483.79 L455.60 484.02 L456.30 484.25 L457.00 484.47 L457.70 484.69 L458.40 484.90 L459.10 485.11 L459.80 485.31 L460.50 485.52 L461.20 485.72 L461.90 485.92 L462.60 486.12 L463.30 486.32 L464.00 486.31 L464.70 486.30 L465.40 486.30 L466.10 486.29 L466.80 486.29 L467.50 486.29 L468.20 486.29 L468.90 486.29 L469.60 486.30 L470.30 486.30 L471.00 486.30 L471.70 486.30 L472.40 486.30 L473.10 486.30 L473.80 486.30 L474.50 486.30 L475.20 486.30 L475.90 486.30 L476.60 486.30 L477.30 486.30 L478.00 486.35 L478.70 486.39 L479.40 486.44 L480.10 486.48 L480.80 486.52 L481.50 486.57 L482.20 486.62 L482.90 486.66 L483.60 486.70 L484.30 486.75 L485.00 486.80 L485.70 486.84 L486.40 486.88 L487.10 486.93 L487.80 486.98 L488.50 487.02 L489.20 487.06 L489.90 487.11 L490.60 487.15 L491.30 487.20 L492.02 487.09 L492.75 486.99 L493.47 486.88 L494.19 486.78 L494.92 486.67 L495.64 486.56 L496.36 486.46 L497.09 486.35 L497.81 486.25 L498.54 486.14 L499.26 486.04 L499.98 485.93 L500.71 485.82 L501.43 485.72 L502.15 485.61 L502.88 485.51 L503.60 485.40 L504.30 485.32 L505.00 485.24 L505.70 485.16 L506.40 485.08 L507.10 485.00 L507.80 484.92 L508.50 484.84 L509.20 484.76 L509.90 484.68 L510.60 484.60 L511.30 484.52 L512.00 484.44 L512.70 484.36 L513.40 484.28 L514.10 484.20 L514.80 484.18 L515.50 484.15 L516.20 484.12 L516.90 484.10 L517.60 484.07 L518.30 484.05 L519.00 484.02 L519.70 484.00 L520.40 483.97 L521.10 483.95 L521.80 483.93 L522.50 483.90 L523.20 483.88 L523.90 483.85 L524.60 483.82 L525.30 483.80 L526.00 483.77 L526.70 483.75 L527.40 483.72 L528.10 483.70 L528.82 483.59 L529.55 483.49 L530.27 483.38 L530.99 483.28 L531.72 483.17 L532.44 483.06 L533.16 482.96 L533.89 482.85 L534.61 482.75 L535.34 482.64 L536.06 482.54 L536.78 482.43 L537.51 482.32 L538.23 482.22 L538.95 482.11 L539.68 482.01 L540.40 481.90 L541.11 482.02 L541.81 482.14 L542.52 482.26 L543.23 482.38 L543.93 482.50 L544.64 482.62 L545.35 482.74 L546.05 482.86 L546.76 482.98 L547.47 483.10 L548.17 483.22 L548.88 483.34 L549.59 483.46 L550.29 483.58 L551.00 483.70 L551.73 483.55 L552.45 483.41 L553.18 483.26 L553.91 483.11 L554.63 482.97 L555.36 482.82 L556.09 482.67 L556.81 482.53 L557.54 482.38 L558.27 482.23 L558.99 482.09 L559.72 481.94 L560.45 481.79 L561.17 481.65 L561.90 481.50 L562.63 481.52 L563.36 481.54 L564.09 481.56 L564.82 481.58 L565.55 481.60 L566.28 481.62 L567.01 481.64 L567.74 481.66 L568.47 481.68 L569.20 481.70 L569.93 481.72 L570.66 481.74 L571.39 481.76 L572.12 481.78 L572.85 481.80 L573.58 481.82 L574.31 481.84 L575.04 481.86 L575.77 481.88 L576.50 481.90 L577.23 481.96 L577.95 482.02 L578.68 482.08 L579.41 482.14 L580.13 482.20 L580.86 482.26 L581.59 482.32 L582.31 482.38 L583.04 482.44 L583.77 482.50 L584.49 482.56 L585.22 482.62 L585.95 482.68 L586.67 482.74 L587.40 482.80 L588.13 482.71 L588.87 482.63 L589.60 482.54 L590.33 482.45 L591.07 482.37 L591.80 482.28 L592.53 482.19 L593.27 482.11 L594.00 482.02 L594.73 481.93 L595.47 481.85 L596.20 481.76 L596.93 481.67 L597.67 481.59 L598.40 481.50 L599.10 481.65 L599.80 481.79 L600.50 481.94 L601.20 482.08 L601.90 482.23 L602.60 482.38 L603.30 482.52 L604.00 482.67 L604.70 482.82 L605.40 482.96 L606.10 483.11 L606.80 483.25 L607.50 483.40 L608.11 483.81 L608.72 484.22 L609.33 484.62 L609.93 485.03 L610.54 485.44 L611.15 485.85 L611.76 486.26 L612.37 486.67 L612.97 487.07 L613.58 487.48 L614.19 487.89 L614.80 488.30 L615.35 488.75 L615.90 489.20 L616.45 489.65 L617.00 490.10 L617.55 490.55 L618.10 491.00 L618.65 491.45 L619.20 491.90 L619.75 492.35 L620.30 492.80 L620.91 493.18 L621.52 493.57 L622.12 493.95 L622.73 494.33 L623.34 494.72 L623.95 495.10 L624.56 495.48 L625.17 495.87 L625.77 496.25 L626.38 496.63 L626.99 497.02 L627.60 497.40 L627.90 498.08 L628.20 498.77 L628.50 499.45 L628.80 500.13 L629.10 500.82 L629.40 501.50 L629.70 502.18 L630.00 502.87 L630.30 503.55 L630.60 504.23 L630.90 504.92 L631.20 505.60 L631.31 506.30 L631.42 507.01 L631.52 507.71 L631.63 508.42 L631.74 509.12 L631.85 509.82 L631.95 510.53 L632.06 511.23 L632.17 511.93 L632.28 512.64 L632.38 513.34 L632.49 514.05 L632.60 514.75 L632.71 515.45 L632.82 516.16 L632.92 516.86 L633.03 517.57 L633.14 518.27 L633.25 518.97 L633.35 519.68 L633.46 520.38 L633.57 521.08 L633.68 521.79 L633.78 522.49 L633.89 523.20 L634.00 523.90 L634.07 524.60 L634.14 525.30 L634.21 526.00 L634.28 526.70 L634.35 527.40 L634.42 528.10 L634.48 528.80 L634.55 529.50 L634.62 530.20 L634.69 530.90 L634.76 531.60 L634.83 532.30 L634.90 533.00 L634.97 533.70 L635.04 534.40 L635.11 535.10 L635.18 535.80 L635.25 536.50 L635.32 537.20 L635.38 537.90 L635.45 538.60 L635.52 539.30 L635.59 540.00 L635.66 540.70 L635.73 541.40 L635.80 542.10 L635.87 542.80 L635.94 543.50 L636.01 544.20 L636.08 544.90 L636.15 545.60 L636.22 546.30 L636.28 547.00 L636.35 547.70 L636.42 548.40 L636.49 549.10 L636.56 549.80 L636.63 550.50 L636.70 551.20 L636.76 551.92 L636.82 552.65 L636.88 553.37 L636.95 554.09 L637.01 554.82 L637.07 555.54 L637.13 556.26 L637.19 556.98 L637.25 557.71 L637.32 558.43 L637.38 559.15 L637.44 559.88 L637.50 560.60 L637.56 561.32 L637.62 562.05 L637.68 562.77 L637.75 563.49 L637.81 564.22 L637.87 564.94 L637.93 565.66 L637.99 566.38 L638.05 567.11 L638.12 567.83 L638.18 568.55 L638.24 569.28 L638.30 570.00 L638.37 570.70 L638.43 571.40 L638.50 572.09 L638.57 572.79 L638.63 573.49 L638.70 574.19 L638.77 574.88 L638.83 575.58 L638.90 576.28 L638.97 576.98 L639.03 577.68 L639.10 578.37 L639.17 579.07 L639.23 579.77 L639.30 580.47 L639.37 581.16 L639.43 581.86 L639.50 582.56 L639.57 583.26 L639.63 583.96 L639.70 584.65 L639.77 585.35 L639.83 586.05 L639.90 586.75 L639.97 587.44 L640.03 588.14 L640.10 588.84 L640.17 589.54 L640.23 590.24 L640.30 590.93 L640.37 591.63 L640.43 592.33 L640.50 593.03 L640.57 593.72 L640.63 594.42 L640.70 595.12 L640.77 595.82 L640.83 596.52 L640.90 597.21 L640.97 597.91 L641.03 598.61 L641.10 599.31 L641.17 600.00 L641.23 600.70 L641.30 601.40 L641.34 602.10 L641.38 602.80 L641.41 603.50 L641.45 604.20 L641.49 604.90 L641.53 605.60 L641.56 606.30 L641.60 607.00 L641.64 607.70 L641.68 608.40 L641.72 609.10 L641.75 609.80 L641.79 610.50 L641.83 611.20 L641.87 611.90 L641.90 612.60 L641.94 613.30 L641.98 614.00 L642.02 614.70 L642.05 615.40 L642.09 616.10 L642.13 616.80 L642.17 617.50 L642.21 618.20 L642.24 618.90 L642.28 619.60 L642.32 620.30 L642.36 621.00 L642.39 621.70 L642.43 622.40 L642.47 623.10 L642.51 623.80 L642.55 624.50 L642.58 625.20 L642.62 625.90 L642.66 626.60 L642.70 627.30 L642.73 628.00 L642.77 628.70 L642.81 629.40 L642.85 630.10 L642.88 630.80 L642.92 631.50 L642.96 632.20 L643.00 632.90 L643.04 633.60 L643.07 634.30 L643.11 635.00 L643.15 635.70 L643.19 636.40 L643.22 637.10 L643.26 637.80 L643.30 638.50 L643.67 639.16 L644.05 639.83 L644.42 640.49 L644.80 641.15 L645.17 641.81 L645.55 642.47 L645.92 643.14 L646.30 643.80 L646.37 644.51 L646.44 645.21 L646.52 645.92 L646.59 646.63 L646.66 647.34 L646.73 648.04 L646.81 648.75 L646.88 649.46 L646.95 650.17 L647.02 650.87 L647.09 651.58 L647.17 652.29 L647.24 653.00 L647.31 653.70 L647.38 654.41 L647.46 655.12 L647.53 655.83 L647.60 656.53 L647.67 657.24 L647.74 657.95 L647.82 658.66 L647.89 659.36 L647.96 660.07 L648.03 660.78 L648.11 661.49 L648.18 662.19 L648.25 662.90 L648.32 663.61 L648.39 664.31 L648.47 665.02 L648.54 665.73 L648.61 666.44 L648.68 667.14 L648.76 667.85 L648.83 668.56 L648.90 669.27 L648.97 669.97 L649.04 670.68 L649.12 671.39 L649.19 672.10 L649.26 672.80 L649.33 673.51 L649.41 674.22 L649.48 674.93 L649.55 675.63 L649.62 676.34 L649.69 677.05 L649.77 677.76 L649.84 678.46 L649.91 679.17 L649.98 679.88 L650.06 680.59 L650.13 681.29 L650.20 682.00 L650.57 682.61 L650.93 683.22 L651.30 683.83 L651.67 684.44 L652.03 685.06 L652.40 685.67 L652.77 686.28 L653.13 686.89 L653.50 687.50 L653.66 688.20 L653.81 688.89 L653.97 689.59 L654.13 690.28 L654.28 690.98 L654.44 691.67 L654.60 692.37 L654.75 693.07 L654.91 693.76 L655.07 694.46 L655.22 695.15 L655.38 695.85 L655.53 696.54 L655.69 697.24 L655.85 697.93 L656.00 698.63 L656.16 699.33 L656.32 700.02 L656.47 700.72 L656.63 701.41 L656.79 702.11 L656.94 702.80 L657.10 703.50 L657.68 703.90 L658.26 704.30 L658.84 704.70 L659.42 705.10 L660.00 705.50" fill="none" stroke="#ec0a0a" stroke-width="4" stroke-linejoin="round"/>
<path d="M100.60 571.50 L101.15 570.92 L101.70 570.17 L102.25 569.30 L102.80 568.39 L103.35 567.53 L103.90 566.79 L104.45 566.24 L105.00 565.88 L105.66 565.89 L106.31 566.08 L106.97 566.30 L107.62 566.43 L108.28 566.33 L108.94 565.95 L109.59 565.33 L110.25 564.52 L110.91 563.65 L111.56 562.84 L112.22 562.21 L112.88 561.84 L113.53 561.73 L114.19 561.83 L114.84 562.03 L115.50 562.21 L116.16 562.30 L116.81 562.15 L117.47 561.74 L118.12 561.09 L118.78 560.30 L119.44 559.50 L120.09 558.80 L120.75 558.31 L121.41 558.09 L122.06 558.12 L122.72 558.32 L123.38 558.59 L124.03 558.78 L124.69 558.80 L125.34 558.56 L126.00 558.08 L126.58 557.35 L127.17 556.53 L127.75 555.69 L128.33 554.90 L128.92 554.25 L129.50 553.77 L130.08 553.47 L130.67 553.35 L131.25 553.35 L131.83 553.42 L132.42 553.46 L133.00 553.41 L133.58 553.22 L134.17 552.83 L134.75 552.24 L135.33 551.48 L135.92 550.62 L136.50 549.75 L137.18 549.06 L137.87 548.62 L138.55 548.46 L139.23 548.58 L139.92 548.87 L140.60 549.18 L141.28 549.38 L141.97 549.34 L142.65 548.99 L143.33 548.32 L144.02 547.47 L144.70 546.64 L145.38 546.01 L146.07 545.70 L146.75 545.73 L147.43 546.02 L148.12 546.40 L148.80 546.66 L149.42 546.53 L150.04 546.11 L150.65 545.42 L151.27 544.55 L151.89 543.63 L152.51 542.81 L153.12 542.21 L153.74 541.89 L154.36 541.84 L154.98 541.98 L155.59 542.19 L156.21 542.30 L156.83 542.21 L157.45 541.84 L158.06 541.27 L158.68 540.53 L159.30 539.70 L159.92 538.87 L160.54 538.13 L161.15 537.56 L161.77 537.19 L162.39 537.02 L163.01 537.02 L163.62 537.13 L164.24 537.24 L164.86 537.28 L165.48 537.16 L166.09 536.84 L166.71 536.30 L167.33 535.56 L167.95 534.72 L168.56 533.87 L169.18 533.11 L169.80 532.53 L170.50 532.38 L171.20 532.51 L171.90 532.84 L172.60 533.23 L173.30 533.54 L174.00 533.63 L174.70 533.46 L175.40 533.09 L176.10 532.58 L176.80 531.98 L177.50 531.36 L178.20 530.80 L178.90 530.35 L179.60 530.07 L180.30 529.98 L180.96 529.94 L181.62 530.01 L182.29 530.15 L182.95 530.29 L183.61 530.38 L184.28 530.35 L184.94 530.17 L185.60 529.83 L186.26 529.33 L186.93 528.70 L187.59 528.00 L188.25 527.30 L188.91 526.66 L189.58 526.14 L190.24 525.78 L190.90 525.58 L191.56 525.56 L192.23 525.67 L192.89 525.84 L193.56 526.00 L194.22 526.10 L194.89 526.07 L195.55 525.89 L196.22 525.54 L196.88 525.06 L197.55 524.47 L198.21 523.82 L198.88 523.16 L199.54 522.55 L200.21 522.02 L200.87 521.63 L201.54 521.38 L202.20 521.28 L202.86 521.25 L203.53 521.31 L204.19 521.40 L204.86 521.47 L205.52 521.48 L206.19 521.37 L206.85 521.12 L207.52 520.73 L208.18 520.20 L208.85 519.58 L209.51 518.90 L210.18 518.19 L210.84 517.53 L211.51 516.94 L212.17 516.46 L212.84 516.12 L213.50 515.91 L214.18 515.88 L214.85 515.95 L215.53 516.07 L216.21 516.19 L216.88 516.27 L217.56 516.25 L218.24 516.10 L218.92 515.82 L219.59 515.42 L220.27 514.90 L220.95 514.31 L221.62 513.67 L222.30 513.03 L222.91 512.39 L223.52 511.80 L224.13 511.30 L224.74 510.90 L225.35 510.60 L225.96 510.40 L226.57 510.28 L227.18 510.22 L227.79 510.20 L228.40 510.19 L229.01 510.14 L229.62 510.05 L230.23 509.87 L230.84 509.60 L231.45 509.22 L232.06 508.74 L232.67 508.17 L233.28 507.52 L233.89 506.84 L234.50 506.15 L235.15 505.54 L235.79 504.99 L236.44 504.54 L237.09 504.21 L237.74 503.99 L238.38 503.89 L239.03 503.89 L239.68 503.95 L240.33 504.04 L240.97 504.12 L241.62 504.15 L242.27 504.09 L242.92 503.93 L243.56 503.65 L244.21 503.26 L244.86 502.78 L245.51 502.22 L246.15 501.61 L246.80 500.99 L247.47 500.40 L248.13 499.87 L248.80 499.43 L249.47 499.09 L250.13 498.88 L250.80 498.77 L251.47 498.76 L252.13 498.83 L252.80 498.93 L253.47 499.03 L254.13 499.09 L254.80 499.09 L255.47 498.98 L256.13 498.76 L256.80 498.44 L257.47 498.02 L258.13 497.51 L258.80 496.95 L259.47 496.36 L260.13 495.77 L260.80 495.23 L261.50 494.84 L262.20 494.55 L262.90 494.38 L263.60 494.31 L264.30 494.35 L265.00 494.47 L265.70 494.64 L266.40 494.83 L267.10 495.01 L267.80 495.13 L268.50 495.17 L269.20 495.12 L269.90 494.96 L270.60 494.72 L271.30 494.42 L272.00 494.06 L272.70 493.66 L273.40 493.24 L274.10 492.82 L274.80 492.42 L275.52 492.18 L276.24 492.00 L276.95 491.89 L277.67 491.85 L278.39 491.89 L279.11 492.00 L279.83 492.16 L280.55 492.37 L281.26 492.61 L281.98 492.85 L282.70 493.07 L283.42 493.25 L284.14 493.39 L284.85 493.46 L285.57 493.46 L286.29 493.39 L287.01 493.26 L287.73 493.08 L288.45 492.86 L289.16 492.62 L289.88 492.36 L290.60 492.12 L291.32 491.94 L292.04 491.80 L292.75 491.70 L293.47 491.66 L294.19 491.69 L294.91 491.77 L295.63 491.90 L296.35 492.08 L297.06 492.30 L297.78 492.53 L298.50 492.77 L299.22 492.99 L299.94 493.19 L300.65 493.36 L301.37 493.47 L302.09 493.53 L302.81 493.53 L303.53 493.48 L304.25 493.38 L304.96 493.23 L305.68 493.06 L306.40 492.88 L307.10 492.79 L307.80 492.72 L308.50 492.68 L309.20 492.68 L309.90 492.73 L310.60 492.83 L311.30 492.99 L312.00 493.19 L312.70 493.43 L313.40 493.70 L314.10 493.98 L314.80 494.27 L315.50 494.55 L316.20 494.80 L316.90 495.02 L317.60 495.20 L318.30 495.33 L319.00 495.41 L319.70 495.46 L320.40 495.47 L321.06 495.10 L321.72 494.71 L322.38 494.31 L323.04 493.90 L323.70 493.50 L324.36 493.12 L325.02 492.75 L325.68 492.42 L326.34 492.11 L327.00 491.83 L327.70 492.08 L328.40 492.36 L329.10 492.67 L329.80 493.01 L330.50 493.37 L331.20 493.74 L331.90 494.11 L332.60 494.47 L333.30 494.81 L334.00 495.14 L334.70 495.43 L335.40 495.70 L336.10 495.93 L336.80 496.13 L337.50 496.30 L338.20 496.33 L338.90 496.35 L339.60 496.35 L340.30 496.35 L341.00 496.36 L341.70 496.39 L342.40 496.44 L343.10 496.52 L343.80 496.63 L344.50 496.77 L345.20 496.95 L345.90 497.15 L346.60 497.38 L347.30 497.61 L348.00 497.85 L348.70 498.09 L349.40 498.32 L350.10 498.53 L350.80 498.71 L351.50 498.87 L352.22 498.89 L352.94 498.89 L353.65 498.87 L354.37 498.84 L355.09 498.79 L355.81 498.74 L356.53 498.68 L357.25 498.62 L357.96 498.57 L358.68 498.52 L359.40 498.48 L360.12 498.46 L360.84 498.45 L361.55 498.46 L362.27 498.48 L362.99 498.51 L363.71 498.56 L364.43 498.63 L365.15 498.69 L365.86 498.77 L366.58 498.85 L367.30 498.92 L368.00 498.96 L368.70 498.99 L369.40 499.02 L370.10 499.03 L370.80 499.03 L371.50 499.03 L372.20 499.01 L372.90 498.98 L373.60 498.94 L374.30 498.89 L375.00 498.84 L375.70 498.78 L376.40 498.73 L377.10 498.67 L377.80 498.62 L378.50 498.57 L379.20 498.52 L379.90 498.49 L380.60 498.46 L381.30 498.44 L382.00 498.42 L382.70 498.42 L383.40 498.41 L384.10 498.42 L384.80 498.42 L385.52 498.49 L386.24 498.56 L386.95 498.62 L387.67 498.68 L388.39 498.74 L389.11 498.80 L389.83 498.85 L390.55 498.89 L391.26 498.93 L391.98 498.97 L392.70 499.01 L393.42 499.04 L394.14 499.07 L394.85 499.10 L395.57 499.13 L396.29 499.16 L397.01 499.20 L397.73 499.24 L398.45 499.27 L399.16 499.32 L399.88 499.36 L400.60 499.40 L401.30 499.50 L402.00 499.61 L402.70 499.71 L403.40 499.82 L404.10 499.92 L404.80 500.02 L405.50 500.13 L406.20 500.23 L406.90 500.34 L407.60 500.44 L408.30 500.54 L409.00 500.65 L409.70 500.75 L410.40 500.86 L411.10 500.96 L411.80 501.06 L412.50 501.17 L413.20 501.27 L413.90 501.38 L414.60 501.48 L415.30 501.58 L416.00 501.69 L416.70 501.79 L417.40 501.90 L418.10 502.00 L418.82 502.04 L419.54 502.08 L420.25 502.12 L420.97 502.16 L421.69 502.20 L422.41 502.25 L423.13 502.29 L423.85 502.33 L424.56 502.37 L425.28 502.41 L426.00 502.45 L426.72 502.49 L427.44 502.53 L428.15 502.57 L428.87 502.61 L429.59 502.65 L430.31 502.70 L431.03 502.74 L431.75 502.78 L432.46 502.82 L433.18 502.86 L433.90 502.90 L434.63 502.96 L435.37 503.01 L436.10 503.07 L436.83 503.12 L437.57 503.18 L438.30 503.23 L439.03 503.29 L439.77 503.34 L440.50 503.40 L441.20 503.26 L441.90 503.12 L442.60 502.98 L443.30 502.84 L444.00 502.70 L444.70 502.56 L445.40 502.42 L446.10 502.28 L446.80 502.14 L447.50 502.00 L448.22 502.00 L448.94 502.00 L449.65 502.00 L450.37 502.00 L451.09 502.00 L451.81 502.00 L452.53 502.00 L453.25 502.00 L453.96 502.00 L454.68 502.00 L455.40 502.00 L456.12 502.00 L456.84 502.00 L457.55 502.00 L458.27 502.00 L458.99 502.00 L459.71 502.00 L460.43 502.00 L461.15 502.00 L461.86 502.00 L462.58 502.00 L463.30 502.00 L464.01 501.94 L464.73 501.87 L465.44 501.81 L466.15 501.75 L466.87 501.68 L467.58 501.62 L468.30 501.55 L469.01 501.49 L469.72 501.43 L470.44 501.36 L471.15 501.30 L471.86 501.24 L472.58 501.17 L473.29 501.11 L474.00 501.05 L474.72 500.98 L475.43 500.92 L476.15 500.85 L476.86 500.79 L477.57 500.73 L478.29 500.66 L479.00 500.60 L479.72 500.57 L480.44 500.54 L481.15 500.50 L481.87 500.47 L482.59 500.44 L483.31 500.41 L484.03 500.38 L484.75 500.35 L485.46 500.31 L486.18 500.28 L486.90 500.25 L487.62 500.22 L488.34 500.19 L489.05 500.15 L489.77 500.12 L490.49 500.09 L491.21 500.06 L491.93 500.03 L492.65 500.00 L493.36 499.96 L494.08 499.93 L494.80 499.90 L495.52 499.80 L496.24 499.70 L496.95 499.60 L497.67 499.50 L498.39 499.40 L499.11 499.30 L499.83 499.20 L500.55 499.10 L501.26 499.00 L501.98 498.90 L502.70 498.80 L503.42 498.70 L504.14 498.60 L504.85 498.50 L505.57 498.40 L506.29 498.30 L507.01 498.20 L507.73 498.10 L508.45 498.00 L509.16 497.90 L509.88 497.80 L510.60 497.70 L511.30 497.68 L512.00 497.65 L512.70 497.63 L513.40 497.60 L514.10 497.58 L514.80 497.56 L515.50 497.53 L516.20 497.51 L516.90 497.48 L517.60 497.46 L518.30 497.44 L519.00 497.41 L519.70 497.39 L520.40 497.36 L521.10 497.34 L521.80 497.32 L522.50 497.29 L523.20 497.27 L523.90 497.24 L524.60 497.22 L525.30 497.20 L526.00 497.17 L526.70 497.15 L527.40 497.12 L528.10 497.10 L528.82 497.05 L529.54 496.99 L530.25 496.94 L530.97 496.88 L531.69 496.83 L532.41 496.77 L533.13 496.72 L533.85 496.66 L534.56 496.61 L535.28 496.55 L536.00 496.50 L536.72 496.45 L537.44 496.39 L538.15 496.34 L538.87 496.28 L539.59 496.23 L540.31 496.17 L541.03 496.12 L541.75 496.06 L542.46 496.01 L543.18 495.95 L543.90 495.90 L544.61 495.96 L545.32 496.02 L546.03 496.08 L546.74 496.14 L547.45 496.20 L548.16 496.26 L548.87 496.32 L549.58 496.38 L550.29 496.44 L551.00 496.50 L551.71 496.48 L552.41 496.46 L553.12 496.43 L553.82 496.41 L554.53 496.39 L555.23 496.37 L555.94 496.34 L556.64 496.32 L557.35 496.30 L558.06 496.28 L558.76 496.26 L559.47 496.23 L560.17 496.21 L560.88 496.19 L561.58 496.17 L562.29 496.14 L562.99 496.12 L563.70 496.10 L564.41 496.12 L565.12 496.14 L565.83 496.17 L566.54 496.19 L567.26 496.21 L567.97 496.23 L568.68 496.26 L569.39 496.28 L570.10 496.30 L570.81 496.32 L571.52 496.34 L572.23 496.37 L572.94 496.39 L573.66 496.41 L574.37 496.43 L575.08 496.46 L575.79 496.48 L576.50 496.50 L577.20 496.62 L577.90 496.73 L578.60 496.85 L579.30 496.96 L580.00 497.08 L580.70 497.19 L581.40 497.31 L582.10 497.42 L582.80 497.54 L583.50 497.65 L584.20 497.77 L584.90 497.88 L585.60 498.00 L586.30 498.00 L587.00 498.00 L587.70 498.00 L588.40 498.00 L589.10 498.00 L589.80 498.00 L590.50 498.00 L591.20 498.00 L591.90 498.00 L592.60 498.00 L593.30 498.00 L594.00 498.00 L594.70 498.00 L595.41 498.19 L596.12 498.38 L596.82 498.58 L597.53 498.77 L598.24 498.96 L598.95 499.15 L599.65 499.35 L600.36 499.54 L601.07 499.73 L601.78 499.92 L602.48 500.12 L603.19 500.31 L603.90 500.50 L604.47 500.93 L605.04 501.36 L605.61 501.79 L606.17 502.23 L606.74 502.66 L607.31 503.09 L607.88 503.52 L608.45 503.95 L609.02 504.38 L609.59 504.81 L610.16 505.24 L610.73 505.67 L611.29 506.11 L611.86 506.54 L612.43 506.97 L613.00 507.40 L613.49 507.95 L613.97 508.51 L614.46 509.06 L614.95 509.61 L615.43 510.17 L615.92 510.72 L616.41 511.27 L616.89 511.83 L617.38 512.38 L617.87 512.93 L618.35 513.49 L618.84 514.04 L619.33 514.59 L619.81 515.15 L620.30 515.70 L620.63 516.32 L620.96 516.94 L621.30 517.55 L621.63 518.17 L621.96 518.79 L622.29 519.41 L622.62 520.03 L622.95 520.65 L623.29 521.26 L623.62 521.88 L623.95 522.50 L624.28 523.12 L624.61 523.74 L624.95 524.35 L625.28 524.97 L625.61 525.59 L625.94 526.21 L626.27 526.83 L626.60 527.45 L626.94 528.06 L627.27 528.68 L627.60 529.30 L627.75 529.99 L627.90 530.67 L628.05 531.36 L628.20 532.05 L628.35 532.74 L628.50 533.42 L628.65 534.11 L628.80 534.80 L628.95 535.49 L629.10 536.17 L629.25 536.86 L629.40 537.55 L629.55 538.24 L629.70 538.92 L629.85 539.61 L630.00 540.30 L630.15 540.99 L630.30 541.67 L630.45 542.36 L630.60 543.05 L630.75 543.74 L630.90 544.42 L631.05 545.11 L631.20 545.80 L631.27 546.50 L631.35 547.20 L631.42 547.90 L631.49 548.60 L631.57 549.30 L631.64 550.00 L631.71 550.70 L631.78 551.40 L631.86 552.10 L631.93 552.80 L632.00 553.50 L632.08 554.20 L632.15 554.90 L632.22 555.60 L632.30 556.30 L632.37 557.00 L632.44 557.70 L632.52 558.40 L632.59 559.10 L632.66 559.80 L632.73 560.50 L632.81 561.20 L632.88 561.90 L632.95 562.60 L633.03 563.30 L633.10 564.00 L633.15 564.71 L633.21 565.41 L633.26 566.12 L633.31 566.82 L633.36 567.53 L633.42 568.23 L633.47 568.94 L633.52 569.65 L633.58 570.35 L633.63 571.06 L633.68 571.76 L633.73 572.47 L633.79 573.17 L633.84 573.88 L633.89 574.58 L633.95 575.29 L634.00 576.00 L634.05 576.70 L634.10 577.41 L634.16 578.11 L634.21 578.82 L634.26 579.52 L634.32 580.23 L634.37 580.94 L634.42 581.64 L634.47 582.35 L634.53 583.05 L634.58 583.76 L634.63 584.46 L634.68 585.17 L634.74 585.88 L634.79 586.58 L634.84 587.29 L634.90 587.99 L634.95 588.70 L635.00 589.40 L635.05 590.11 L635.11 590.82 L635.16 591.52 L635.21 592.23 L635.27 592.93 L635.32 593.64 L635.37 594.34 L635.42 595.05 L635.48 595.75 L635.53 596.46 L635.58 597.17 L635.64 597.87 L635.69 598.58 L635.74 599.28 L635.79 599.99 L635.85 600.69 L635.90 601.40 L635.93 602.11 L635.96 602.83 L636.00 603.54 L636.03 604.25 L636.06 604.97 L636.09 605.68 L636.12 606.40 L636.15 607.11 L636.19 607.82 L636.22 608.54 L636.25 609.25 L636.28 609.96 L636.31 610.68 L636.35 611.39 L636.38 612.10 L636.41 612.82 L636.44 613.53 L636.47 614.25 L636.50 614.96 L636.54 615.67 L636.57 616.39 L636.60 617.10 L636.63 617.81 L636.66 618.53 L636.70 619.24 L636.73 619.95 L636.76 620.67 L636.79 621.38 L636.82 622.10 L636.85 622.81 L636.89 623.52 L636.92 624.24 L636.95 624.95 L636.98 625.66 L637.01 626.38 L637.05 627.09 L637.08 627.80 L637.11 628.52 L637.14 629.23 L637.17 629.95 L637.20 630.66 L637.24 631.37 L637.27 632.09 L637.30 632.80 L637.34 633.51 L637.38 634.23 L637.42 634.94 L637.46 635.65 L637.50 636.37 L637.55 637.08 L637.59 637.80 L637.63 638.51 L637.67 639.22 L637.71 639.94 L637.75 640.65 L637.79 641.36 L637.83 642.08 L637.87 642.79 L637.91 643.50 L637.95 644.22 L638.00 644.93 L638.04 645.65 L638.08 646.36 L638.12 647.07 L638.16 647.79 L638.20 648.50 L638.24 649.21 L638.28 649.93 L638.32 650.64 L638.36 651.35 L638.40 652.07 L638.45 652.78 L638.49 653.50 L638.53 654.21 L638.57 654.92 L638.61 655.64 L638.65 656.35 L638.69 657.06 L638.73 657.78 L638.77 658.49 L638.81 659.20 L638.85 659.92 L638.90 660.63 L638.94 661.35 L638.98 662.06 L639.02 662.77 L639.06 663.49 L639.10 664.20 L639.15 664.91 L639.20 665.63 L639.26 666.34 L639.31 667.05 L639.36 667.77 L639.41 668.48 L639.47 669.20 L639.52 669.91 L639.57 670.62 L639.62 671.34 L639.67 672.05 L639.73 672.76 L639.78 673.48 L639.83 674.19 L639.88 674.90 L639.94 675.62 L639.99 676.33 L640.04 677.05 L640.09 677.76 L640.15 678.47 L640.20 679.19 L640.25 679.90 L640.30 680.61 L640.35 681.33 L640.41 682.04 L640.46 682.75 L640.51 683.47 L640.56 684.18 L640.62 684.90 L640.67 685.61 L640.72 686.32 L640.77 687.04 L640.83 687.75 L640.88 688.46 L640.93 689.18 L640.98 689.89 L641.03 690.60 L641.09 691.32 L641.14 692.03 L641.19 692.75 L641.24 693.46 L641.30 694.17 L641.35 694.89 L641.40 695.60 L641.45 696.30 L641.49 697.01 L641.54 697.71 L641.59 698.41 L641.63 699.12 L641.68 699.82 L641.73 700.52 L641.77 701.23 L641.82 701.93 L641.86 702.64 L641.91 703.34 L641.96 704.04 L642.00 704.75 L642.05 705.45 L642.10 706.15 L642.14 706.86 L642.19 707.56 L642.24 708.26 L642.28 708.97 L642.33 709.67 L642.38 710.38 L642.42 711.08 L642.47 711.78 L642.51 712.49 L642.56 713.19 L642.61 713.89 L642.65 714.60 L642.70 715.30 L642.75 716.00 L642.79 716.70 L642.84 717.40 L642.89 718.10 L642.94 718.80 L642.98 719.50 L643.03 720.20 L643.08 720.90 L643.12 721.60 L643.17 722.30 L643.22 723.00 L643.27 723.70 L643.31 724.40 L643.36 725.10 L643.41 725.80 L643.46 726.50 L643.50 727.20 L643.55 727.90 L643.60 728.60 L643.64 729.30 L643.69 730.00 L643.74 730.70 L643.79 731.40 L643.83 732.10 L643.88 732.80 L643.93 733.50 L643.98 734.20 L644.02 734.90 L644.07 735.60 L644.12 736.30 L644.16 737.00 L644.21 737.70 L644.26 738.40 L644.31 739.10 L644.35 739.80 L644.40 740.50 L644.50 741.20 L644.61 741.90 L644.71 742.60 L644.82 743.30 L644.92 744.00 L645.02 744.70 L645.13 745.40 L645.23 746.10 L645.34 746.80 L645.44 747.50 L645.55 748.20 L645.65 748.90 L645.75 749.60 L645.86 750.30 L645.96 751.00 L646.07 751.70 L646.17 752.40 L646.27 753.10 L646.38 753.80 L646.48 754.50 L646.59 755.20 L646.69 755.90 L646.80 756.60 L646.90 757.30 L646.99 758.00 L647.08 758.69 L647.17 759.39 L647.26 760.09 L647.35 760.78 L647.44 761.48 L647.53 762.18 L647.62 762.87 L647.71 763.57 L647.80 764.27 L647.89 764.96 L647.98 765.66 L648.07 766.36 L648.16 767.05 L648.24 767.75 L648.33 768.44 L648.42 769.14 L648.51 769.84 L648.60 770.53 L648.69 771.23 L648.78 771.93 L648.87 772.62 L648.96 773.32 L649.05 774.02 L649.14 774.71 L649.23 775.41 L649.32 776.11 L649.41 776.80 L649.50 777.50 L649.61 778.20 L649.73 778.89 L649.84 779.59 L649.96 780.29 L650.07 780.98 L650.18 781.68 L650.30 782.38 L650.41 783.07 L650.52 783.77 L650.64 784.47 L650.75 785.16 L650.87 785.86 L650.98 786.56 L651.09 787.25 L651.21 787.95 L651.32 788.64 L651.43 789.34 L651.55 790.04 L651.66 790.73 L651.78 791.43 L651.89 792.13 L652.00 792.82 L652.12 793.52 L652.23 794.22 L652.34 794.91 L652.46 795.61 L652.57 796.31 L652.69 797.00 L652.80 797.70 L652.94 798.40 L653.08 799.11 L653.22 799.81 L653.37 800.52 L653.51 801.22 L653.65 801.93 L653.79 802.63 L653.93 803.33 L654.08 804.04 L654.22 804.74 L654.36 805.45 L654.50 806.15 L654.64 806.85 L654.78 807.56 L654.92 808.26 L655.07 808.97 L655.21 809.67 L655.35 810.38 L655.49 811.08 L655.63 811.78 L655.78 812.49 L655.92 813.19 L656.06 813.90 L656.20 814.60 L656.44 815.26 L656.69 815.91 L656.93 816.57 L657.17 817.23 L657.41 817.89 L657.66 818.54 L657.90 819.20 L658.14 819.86 L658.39 820.51 L658.63 821.17 L658.87 821.83 L659.11 822.49 L659.36 823.14 L659.60 823.80" fill="none" stroke="#0a0ae6" stroke-width="4.2" stroke-dasharray="7.3 4.25 1.4 4.25" stroke-dashoffset="5.9214277357452545"/>
<line x1="193.4" y1="737" x2="228" y2="737" stroke="#0a0ae6" stroke-width="4" stroke-dasharray="1.4 4.1 7.6 4.1"/>
<line x1="193.4" y1="771.7" x2="228.4" y2="771.7" stroke="#ec0a0a" stroke-width="4"/>
<text x="231.9" y="746.3" class="lg2" textLength="309" lengthAdjust="spacingAndGlyphs">Absorption in active layer</text>
<text x="232" y="782.2" class="lg2" textLength="345.8" lengthAdjust="spacingAndGlyphs">Total absorption in solar cell</text>
<text x="-1.2" y="461.1" class="pl">(</text><text transform="translate(10.4,461.3) scale(0.98,1.05)" class="pl">b</text><text x="30.2" y="461.1" class="pl">)</text>
<text transform="translate(37.1,647.8) rotate(-90)" text-anchor="middle" class="lg">Absorption efficiency (%)</text>
<text x="380.5" y="884" text-anchor="middle" class="lg"><tspan font-family="Liberation Serif">λ</tspan> (nm)</text>
</svg>
</body></html>
